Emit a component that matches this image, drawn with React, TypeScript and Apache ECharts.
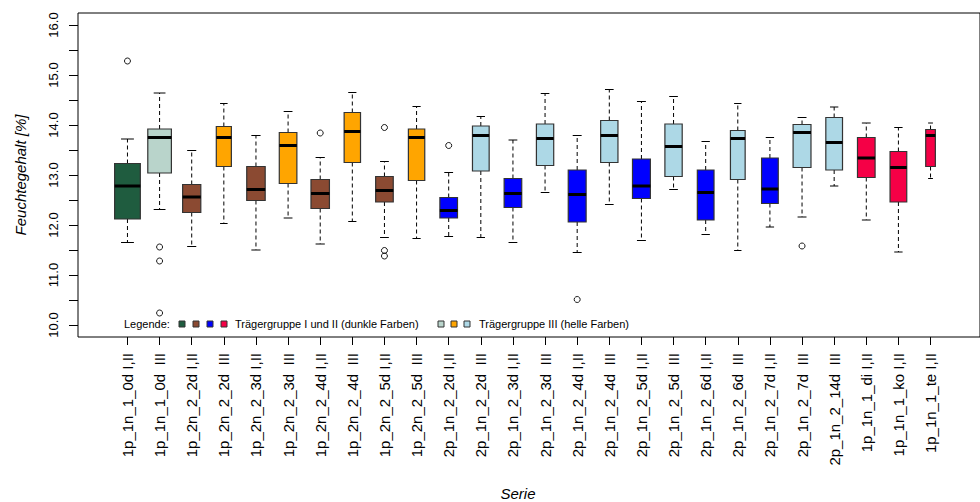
import { useEffect, useRef } from "react";
import * as echarts from "echarts";

// Series labels (group suffix: I,II = Trägergruppe I und II, III = Trägergruppe III)
const seriesLabels = [
  "1p_1n_1_0d I,II", "1p_1n_1_0d  III",
  "1p_2n_2_2d I,II", "1p_2n_2_2d  III",
  "1p_2n_2_3d I,II", "1p_2n_2_3d  III",
  "1p_2n_2_4d I,II", "1p_2n_2_4d  III",
  "1p_2n_2_5d I,II", "1p_2n_2_5d  III",
  "2p_1n_2_2d I,II", "2p_1n_2_2d  III",
  "2p_1n_2_3d I,II", "2p_1n_2_3d  III",
  "2p_1n_2_4d I,II", "2p_1n_2_4d  III",
  "2p_1n_2_5d I,II", "2p_1n_2_5d  III",
  "2p_1n_2_6d I,II", "2p_1n_2_6d  III",
  "2p_1n_2_7d I,II", "2p_1n_2_7d  III",
  "2p_1n_2_14d  III",
  "1p_1n_1_di I,II", "1p_1n_1_ko I,II", "1p_1n_1_te I,II",
];

// Five-number summaries (Feuchtegehalt in %)
const lowerWhisker = [11.65, 12.31, 11.57, 12.03, 11.5, 12.14, 11.62, 12.07, 11.75, 11.73, 11.77, 11.75, 11.65, 12.65, 11.45, 12.41, 11.69, 12.71, 11.81, 11.49, 11.96, 12.16, 12.78, 12.1, 11.46, 12.93];
const lowerQuartile = [12.12, 13.04, 12.25, 13.17, 12.49, 12.83, 12.33, 13.25, 12.46, 12.89, 12.14, 13.08, 12.35, 13.19, 12.06, 13.25, 12.53, 12.97, 12.1, 12.91, 12.43, 13.15, 13.1, 12.95, 12.46, 13.17];
const medianValue = [12.78, 13.75, 12.56, 13.75, 12.71, 13.59, 12.63, 13.87, 12.69, 13.75, 12.29, 13.79, 12.63, 13.73, 12.61, 13.79, 12.78, 13.57, 12.65, 13.73, 12.72, 13.85, 13.65, 13.34, 13.15, 13.79];
const upperQuartile = [13.23, 13.92, 12.81, 13.97, 13.17, 13.85, 12.91, 14.25, 12.97, 13.92, 12.55, 13.98, 12.93, 14.02, 13.1, 14.09, 13.32, 14.02, 13.1, 13.89, 13.34, 14.01, 14.15, 13.75, 13.47, 13.91];
const upperWhisker = [13.72, 14.64, 13.49, 14.43, 13.79, 14.27, 13.35, 14.65, 13.27, 14.37, 13.05, 14.17, 13.7, 14.63, 13.79, 14.71, 14.47, 14.57, 13.67, 14.43, 13.75, 14.15, 14.36, 14.04, 13.95, 14.04];
// Sample sizes (box width ~ sqrt(n))
const sampleSize = [64, 54, 32, 22, 33, 30, 33, 26, 30, 26, 30, 27, 30, 29, 31, 29, 31, 29, 27, 21, 27, 31, 27, 30, 27, 9];

// Outliers: [series position (1-based), value]
const outliers: [number, number][] = [
  [1, 15.28],
  [2, 11.56], [2, 11.28], [2, 10.24],
  [7, 13.84],
  [9, 13.95], [9, 11.49], [9, 11.38],
  [11, 13.59],
  [15, 10.51],
  [22, 11.58],
];

const yTicks = [10, 10.5, 11, 11.5, 12, 12.5, 13, 13.5, 14, 14.5, 15, 15.5, 16];
const yLabels = [10, 11, 12, 13, 14, 15, 16];

const C_GREEN = "#1f5c3f";
const C_GREEN_L = "#b9d4cb";
const C_BROWN = "#8b4a32";
const C_ORANGE = "#ffa500";
const C_BLUE = "#0000ff";
const C_BLUE_L = "#add8e6";
const C_RED = "#f50046";

const boxColors = [
  C_GREEN, C_GREEN_L,
  C_BROWN, C_ORANGE, C_BROWN, C_ORANGE, C_BROWN, C_ORANGE, C_BROWN, C_ORANGE,
  C_BLUE, C_BLUE_L, C_BLUE, C_BLUE_L, C_BLUE, C_BLUE_L, C_BLUE, C_BLUE_L, C_BLUE, C_BLUE_L, C_BLUE, C_BLUE_L,
  C_BLUE_L,
  C_RED, C_RED, C_RED,
];

const FONT = "'Liberation Sans', Arial, Helvetica, sans-serif";

export default function App() {
  const ref = useRef<HTMLDivElement>(null);

  useEffect(() => {
    document.body.style.margin = "0";
    if (!ref.current) return;
    const chart = echarts.init(ref.current, undefined, { renderer: "svg" });

    const maxN = Math.max(...sampleSize);
    const boxData = seriesLabels.map((_, i) => [
      i + 1,
      lowerWhisker[i],
      lowerQuartile[i],
      medianValue[i],
      upperQuartile[i],
      upperWhisker[i],
      sampleSize[i],
    ]);
    const positions = seriesLabels.map((_, i) => i + 1);

    const legendY = 324;
    const swatch = (x: number, color: string) => ({
      type: "rect",
      shape: { x, y: legendY - 3, width: 6, height: 6 },
      style: { fill: color, stroke: "#333", lineWidth: 1 },
      silent: true,
    });
    const legendText = (x: number, text: string) => ({
      type: "text",
      x,
      y: legendY,
      style: { text, fill: "#000", font: `11px ${FONT}`, align: "left", verticalAlign: "middle" },
      silent: true,
    });

    chart.setOption({
      animation: false,
      backgroundColor: "#ffffff",
      grid: {
        left: 78,
        top: 13,
        right: -12,
        bottom: 165,
        show: true,
        borderColor: "#000",
        borderWidth: 1,
        backgroundColor: "transparent",
      },
      xAxis: {
        type: "value",
        min: -0.54,
        max: 27.54,
        axisLine: { show: false, onZero: false },
        splitLine: { show: false },
        axisTick: {
          show: true,
          length: 8,
          customValues: positions,
          lineStyle: { color: "#000", width: 1 },
        },
        axisLabel: {
          show: true,
          rotate: 90,
          margin: 16,
          customValues: positions,
          formatter: (v: number) => seriesLabels[Math.round(v) - 1] ?? "",
          color: "#000",
          fontFamily: FONT,
          fontSize: 15,
        },
      },
      yAxis: {
        type: "value",
        min: 9.76,
        max: 16.24,
        axisLine: { show: false, onZero: false },
        splitLine: { show: false },
        axisTick: {
          show: true,
          length: 9,
          customValues: yTicks,
          lineStyle: { color: "#000", width: 1 },
        },
        axisLabel: {
          show: true,
          rotate: 90,
          margin: 18,
          customValues: yLabels,
          formatter: (v: number) => v.toFixed(1),
          color: "#000",
          fontFamily: FONT,
          fontSize: 13,
        },
      },
      series: [
        {
          type: "custom",
          data: boxData,
          encode: { x: 0, y: [1, 2, 3, 4, 5] },
          renderItem: (params: any, api: any) => {
            const x = api.value(0);
            const lo = api.coord([x, api.value(1)]);
            const q1 = api.coord([x, api.value(2)]);
            const md = api.coord([x, api.value(3)]);
            const q3 = api.coord([x, api.value(4)]);
            const hi = api.coord([x, api.value(5)]);
            const n = api.value(6);
            const unit = api.size([1, 0])[0];
            const w = 0.8 * unit * Math.sqrt(n / maxN);
            const cx = md[0];
            const fill = boxColors[params.dataIndex];
            const dash = { stroke: "#000", lineWidth: 1, lineDash: [4, 3] };
            const solid = { stroke: "#000", lineWidth: 1 };
            return {
              type: "group",
              children: [
                { type: "line", shape: { x1: cx, y1: q3[1], x2: cx, y2: hi[1] }, style: dash },
                { type: "line", shape: { x1: cx, y1: q1[1], x2: cx, y2: lo[1] }, style: dash },
                { type: "line", shape: { x1: cx - w / 4, y1: hi[1], x2: cx + w / 4, y2: hi[1] }, style: solid },
                { type: "line", shape: { x1: cx - w / 4, y1: lo[1], x2: cx + w / 4, y2: lo[1] }, style: solid },
                {
                  type: "rect",
                  shape: { x: cx - w / 2, y: q3[1], width: w, height: q1[1] - q3[1] },
                  style: { fill, stroke: "#333", lineWidth: 1.2 },
                },
                {
                  type: "line",
                  shape: { x1: cx - w / 2, y1: md[1], x2: cx + w / 2, y2: md[1] },
                  style: { stroke: "#000", lineWidth: 3 },
                },
              ],
            };
          },
        },
        {
          type: "scatter",
          data: outliers,
          symbol: "circle",
          symbolSize: 6,
          itemStyle: { color: "rgba(255,255,255,0)", borderColor: "#000", borderWidth: 0.9, opacity: 1 },
        },
      ],
      graphic: [
        {
          type: "text",
          x: 20,
          y: 175,
          rotation: Math.PI / 2,
          style: {
            text: "Feuchtegehalt [%]",
            fill: "#000",
            font: `italic 15px ${FONT}`,
            align: "center",
            verticalAlign: "middle",
          },
          silent: true,
        },
        {
          type: "text",
          x: 518,
          y: 493,
          style: {
            text: "Serie",
            fill: "#000",
            font: `italic 15px ${FONT}`,
            align: "center",
            verticalAlign: "middle",
          },
          silent: true,
        },
        legendText(124, "Legende:"),
        swatch(179, C_GREEN),
        swatch(193, C_BROWN),
        swatch(207, C_BLUE),
        swatch(221, C_RED),
        legendText(235, "Trägergruppe I und II (dunkle Farben)"),
        swatch(438, C_GREEN_L),
        swatch(451, C_ORANGE),
        swatch(464, C_BLUE_L),
        legendText(479, "Trägergruppe III (helle Farben)"),
      ],
    });

    return () => chart.dispose();
  }, []);

  return <div ref={ref} style={{ width: 980, height: 502 }} />;
}
